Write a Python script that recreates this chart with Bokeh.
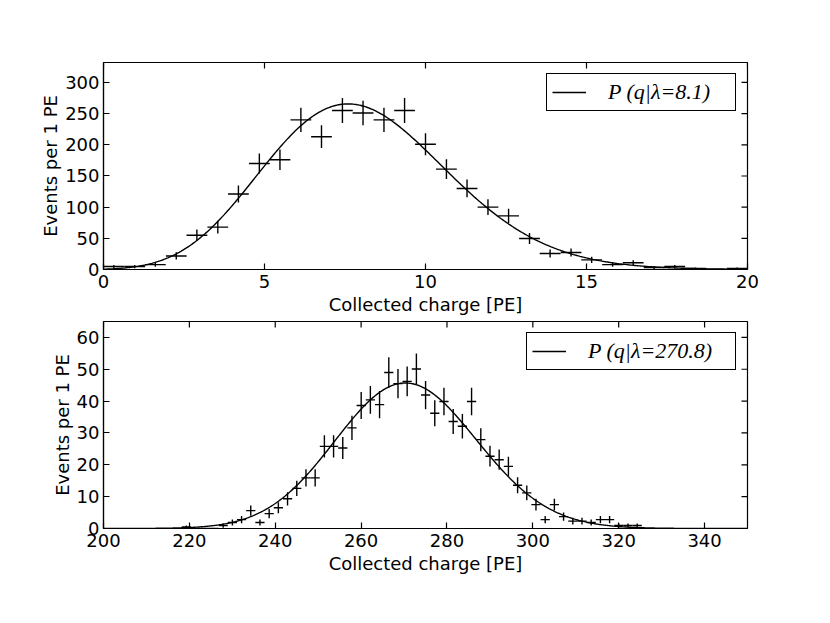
import math
import numpy as np
from bokeh.plotting import figure
from bokeh.models import Range1d, FixedTicker, Legend, LegendItem
from bokeh.layouts import column
from bokeh.embed import file_html
from bokeh.resources import INLINE

# ---------------- data: top panel (lambda = 8.1) ----------------
top_charge = [0.32, 0.97, 1.61, 2.26, 2.90, 3.55, 4.19, 4.84, 5.48, 6.13, 6.77,
              7.42, 8.06, 8.71, 9.35, 10.00, 10.65, 11.29, 11.94, 12.58, 13.23,
              13.87, 14.52, 15.16, 15.81, 16.45, 17.10, 17.74, 18.39, 19.03, 19.68]
top_events = [4.7, 4.7, 7.8, 21.7, 55, 68, 121, 170, 176, 240, 213,
              255, 251, 240, 255, 201, 161, 130, 100, 86, 49.6,
              25.6, 27.2, 15.5, 7.8, 10.9, 3.1, 4.7, 1.6, 0, 1.6]
top_err = [2.7, 2.7, 3.5, 5.8, 9.2, 10.3, 13.7, 16.2, 16.5, 19.3, 18.2,
           19.9, 19.7, 19.3, 19.9, 17.7, 15.8, 14.2, 12.5, 11.5, 8.8,
           6.3, 6.5, 4.9, 3.5, 4.1, 2.2, 2.7, 1.6, 0, 1.6]
top_half_bin = 0.3226
top_lambda = 8.1
top_norm = 1885
top_label = "P (q|λ=8.1)"
top_xticks = [0, 5, 10, 15, 20]
top_yticks = [0, 50, 100, 150, 200, 250, 300]

# ---------------- data: bottom panel (lambda = 270.8) ----------------
bot_charge = [219.30, 221.44, 223.59, 225.73, 227.87, 230.02, 232.16, 234.30, 236.44, 238.59,
              240.73, 242.87, 245.02, 247.16, 249.30, 251.45, 253.59, 255.73, 257.87, 260.02,
              262.16, 264.30, 266.45, 268.59, 270.73, 272.88, 275.02, 277.16, 279.30, 281.45,
              283.59, 285.73, 287.88, 290.02, 292.16, 294.31, 296.45, 298.59, 300.73, 302.88,
              305.02, 307.16, 309.31, 311.45, 313.59, 315.74, 317.88, 320.02, 322.16, 324.31]
bot_events = [0.47, 0, 0, 0, 0.93, 1.87, 2.8, 5.6, 1.87, 4.66,
              6.53, 9.33, 12.6, 15.9, 15.9, 25.8, 25.8, 25.3, 31.6, 38.6,
              40.4, 38.9, 49.0, 45.5, 46.2, 50.1, 41.9, 36.2, 39.9, 33.6,
              32.1, 39.9, 27.9, 22.7, 21.6, 19.5, 13.6, 11.2, 7.5, 2.8,
              7.5, 3.73, 2.33, 2.33, 1.87, 2.8, 2.8, 0.93, 0.93, 0.93]
bot_err = [0.47, 0, 0, 0, 0.66, 0.93, 1.14, 1.62, 0.93, 1.47,
           1.75, 2.09, 2.42, 2.72, 2.72, 3.47, 3.47, 3.44, 3.84, 4.24,
           4.34, 4.26, 4.78, 4.61, 4.64, 4.83, 4.42, 4.11, 4.31, 3.96,
           3.87, 4.31, 3.61, 3.25, 3.17, 3.02, 2.52, 2.29, 1.87, 1.14,
           1.87, 1.32, 1.04, 1.04, 0.93, 1.14, 1.14, 0.66, 0.66, 0.66]
bot_half_bin = 1.0715
bot_lambda = 270.8
bot_norm = 1885
bot_label = "P (q|λ=270.8)"
bot_xticks = [200, 220, 240, 260, 280, 300, 320, 340]
bot_yticks = [0, 10, 20, 30, 40, 50, 60]

x_label = "Collected charge [PE]"
y_label = "Events per 1 PE"

FONT = "DejaVu Sans"
FSIZE = "18px"


def poisson_curve(q, lam, norm):
    return np.array([norm * math.exp(v * math.log(lam) - lam - math.lgamma(v + 1.0)) for v in q])


def style_axis(ax, ticks, tick_standoff, label_standoff):
    ax.ticker = FixedTicker(ticks=ticks)
    ax.minor_tick_line_color = None
    ax.major_tick_in = 6
    ax.major_tick_out = 0
    ax.major_tick_line_color = "black"
    ax.major_tick_line_width = 1.2
    ax.axis_line_color = "black"
    ax.axis_line_width = 1.2
    ax.major_label_text_font = FONT
    ax.major_label_text_font_size = FSIZE
    ax.major_label_text_color = "black"
    ax.major_label_standoff = tick_standoff
    ax.axis_label_text_font = FONT
    ax.axis_label_text_font_size = FSIZE
    ax.axis_label_text_font_style = "normal"
    ax.axis_label_text_color = "black"
    ax.axis_label_standoff = label_standoff


def make_panel(charge, events, err, half_bin, lam, norm, label, xr, yr, xticks, yticks,
               top_border, label_width, curve_x):
    p = figure(frame_width=644, frame_height=207,
               x_range=Range1d(*xr), y_range=Range1d(*yr),
               output_backend="svg", toolbar_location=None,
               min_border_left=103, min_border_right=30,
               min_border_top=top_border, min_border_bottom=50)
    p.xgrid.visible = False
    p.ygrid.visible = False
    p.outline_line_color = "black"
    p.outline_line_width = 1.2
    p.outline_line_alpha = 1.0
    p.background_fill_color = "white"
    p.border_fill_color = "white"

    p.xaxis.axis_label = x_label
    p.yaxis.axis_label = y_label
    style_axis(p.xaxis[0], xticks, 5, 3)
    style_axis(p.yaxis[0], yticks, 4, 1)

    # inward ticks on the top and right edges of the frame (clipped to the frame)
    p.scatter(x=xticks, y=[yr[1]] * len(xticks), marker="dash", size=12, angle=math.pi / 2,
              line_color="black", line_width=1.2)
    p.scatter(x=[xr[1]] * len(yticks), y=yticks, marker="dash", size=12,
              line_color="black", line_width=1.2)

    xs = np.array(charge)
    ys = np.array(events)
    es = np.array(err)
    p.segment(x0=xs - half_bin, y0=ys, x1=xs + half_bin, y1=ys,
              line_color="black", line_width=1.4)
    p.segment(x0=xs, y0=ys - es, x1=xs, y1=ys + es,
              line_color="black", line_width=1.4)

    cy = poisson_curve(curve_x, lam, norm)
    r = p.line(curve_x, cy, line_color="black", line_width=1.4)

    legend = Legend(items=[LegendItem(label=label, renderers=[r])],
                    location="top_right", margin=11, padding=5, spacing=0,
                    glyph_width=34, glyph_height=16, label_standoff=22,
                    label_width=label_width, label_height=16,
                    label_text_font="Liberation Serif", label_text_font_style="italic",
                    label_text_font_size="22px", label_text_color="black",
                    border_line_color="black", border_line_width=1.2, border_line_alpha=1.0,
                    background_fill_color="white", background_fill_alpha=1.0)
    p.add_layout(legend)
    return p


p1 = make_panel(top_charge, top_events, top_err, top_half_bin, top_lambda, top_norm, top_label,
                (0, 20), (0, 332), top_xticks, top_yticks,
                62, 122, np.linspace(0, 20, 401))
p2 = make_panel(bot_charge, bot_events, bot_err, bot_half_bin, bot_lambda, bot_norm, bot_label,
                (200, 350), (0, 65), bot_xticks, bot_yticks,
                2, 142, np.linspace(200, 350, 601))

layout = column(p1, p2, spacing=0)
open("out.html", "w").write(file_html(layout, INLINE))
